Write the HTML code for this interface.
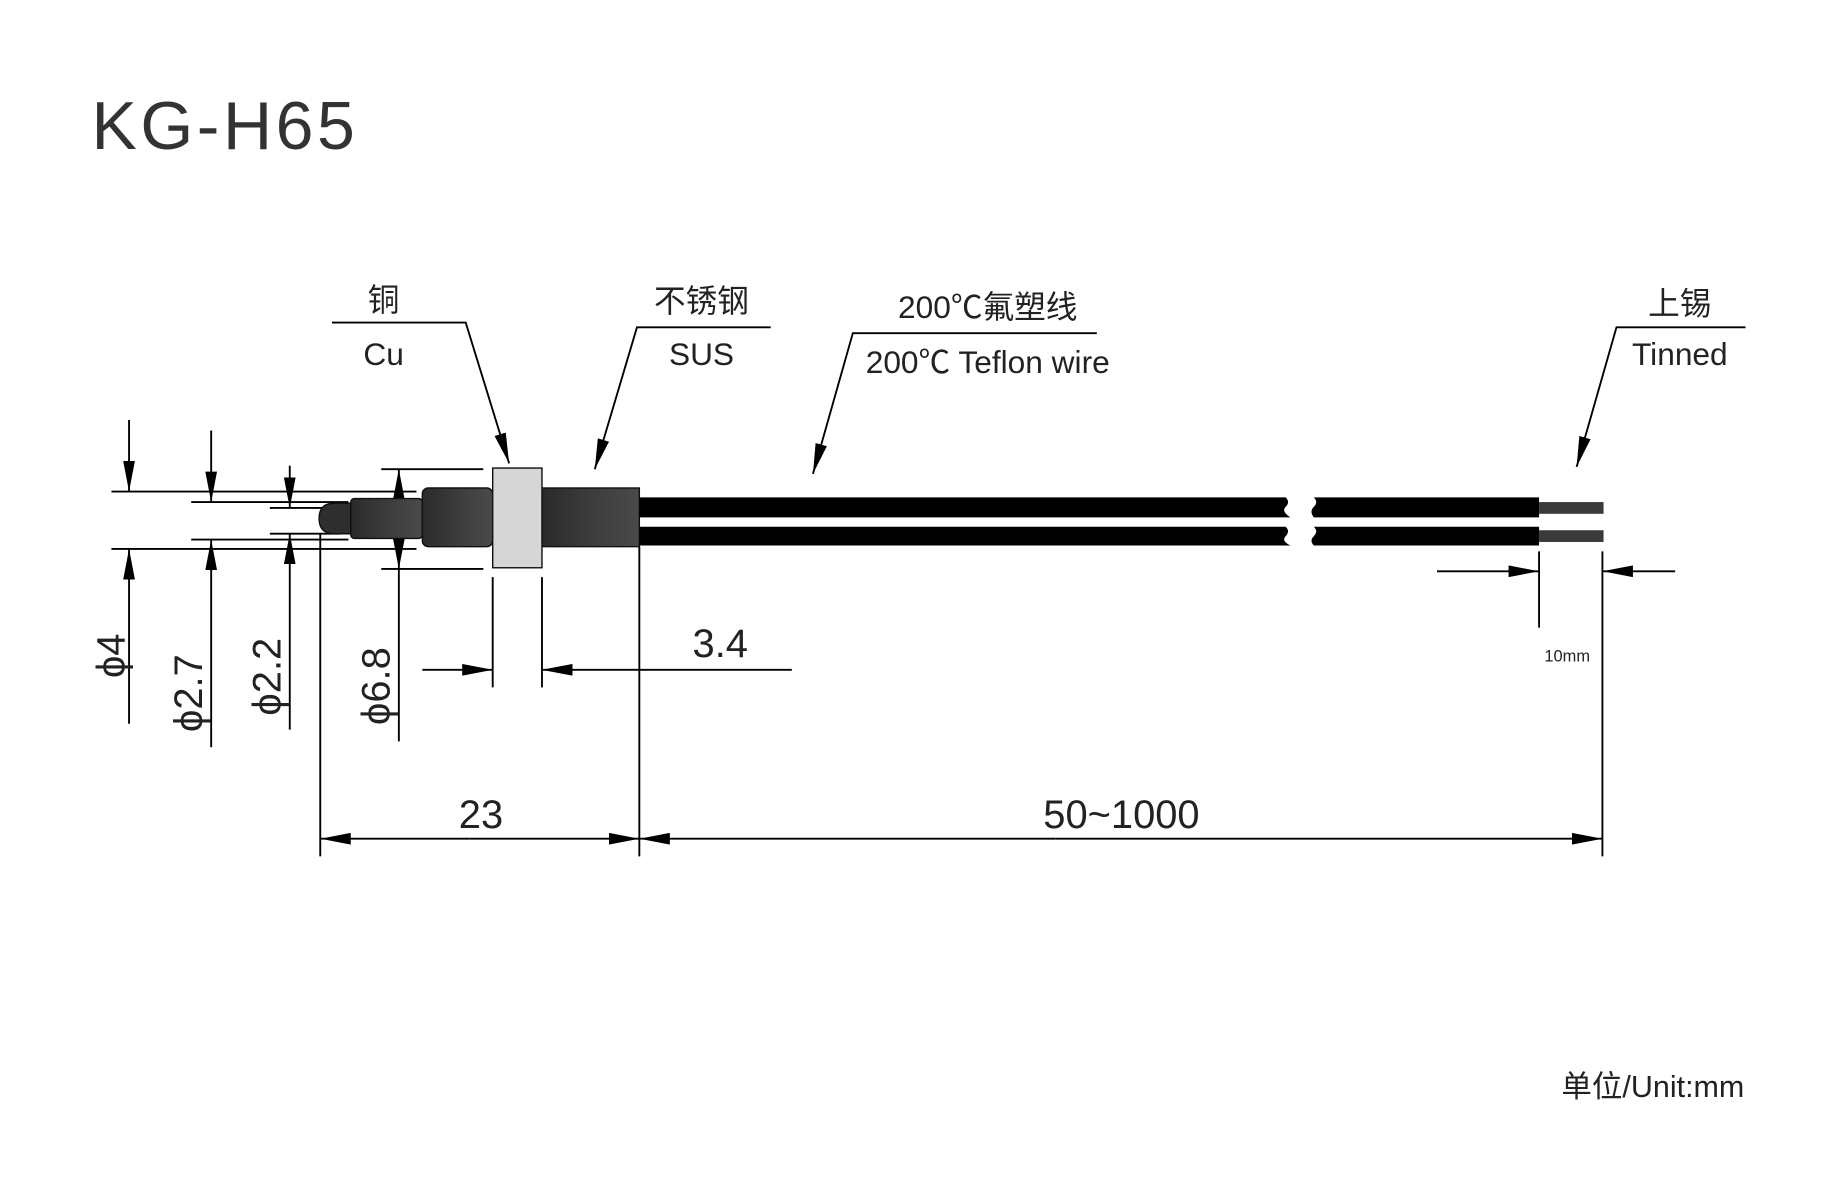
<!DOCTYPE html>
<html><head><meta charset="utf-8"><style>
html,body{margin:0;padding:0;background:#fff}
svg{display:block}
text{font-family:"Liberation Sans","Noto Sans CJK SC",sans-serif;fill:#222}
</style></head><body>
<svg width="1830" height="1193" viewBox="0 0 1560 1017" xmlns="http://www.w3.org/2000/svg">
<defs>
<marker id="a" viewBox="0 0 26 10" refX="26" refY="5" markerWidth="26" markerHeight="10" markerUnits="userSpaceOnUse" orient="auto"><path d="M0,0 L26,5 L0,10z" fill="#000"/></marker>
<linearGradient id="g" x1="0" y1="0" x2="1" y2="0"><stop offset="0" stop-color="#2a2a2a"/><stop offset="0.5" stop-color="#3c3c3c"/><stop offset="1" stop-color="#4a4a4a"/></linearGradient>
</defs>
<text x="78" y="127" font-size="58" style="fill:#333;letter-spacing:3px">KG-H65</text>

<g stroke="#000" stroke-width="1.6" fill="none">
<line x1="95" y1="419" x2="355" y2="419"/><line x1="95" y1="468" x2="355" y2="468"/>
<line x1="110" y1="358" x2="110" y2="419" marker-end="url(#a)"/><line x1="110" y1="617" x2="110" y2="468" marker-end="url(#a)"/>
<line x1="163" y1="428" x2="297" y2="428"/><line x1="163" y1="460" x2="297" y2="460"/>
<line x1="180" y1="367" x2="180" y2="428" marker-end="url(#a)"/><line x1="180" y1="637" x2="180" y2="460" marker-end="url(#a)"/>
<line x1="230" y1="433" x2="290" y2="433"/><line x1="230" y1="455" x2="290" y2="455"/>
<line x1="247" y1="397" x2="247" y2="433" marker-end="url(#a)"/><line x1="247" y1="622" x2="247" y2="455" marker-end="url(#a)"/>
<line x1="325" y1="400" x2="412" y2="400"/><line x1="325" y1="485" x2="412" y2="485"/>
<line x1="340" y1="440" x2="340" y2="400" marker-end="url(#a)"/><line x1="340" y1="445" x2="340" y2="485" marker-end="url(#a)"/>
<line x1="340" y1="485" x2="340" y2="632"/>
<line x1="420" y1="492" x2="420" y2="586"/><line x1="462" y1="492" x2="462" y2="586"/>
<line x1="360" y1="571" x2="420" y2="571" marker-end="url(#a)"/><line x1="675" y1="571" x2="462" y2="571" marker-end="url(#a)"/>
<line x1="273" y1="455" x2="273" y2="730"/><line x1="545" y1="466" x2="545" y2="730"/><line x1="1366" y1="470" x2="1366" y2="730"/>
<line x1="400" y1="715" x2="273" y2="715" marker-end="url(#a)"/><line x1="400" y1="715" x2="545" y2="715" marker-end="url(#a)"/>
<line x1="900" y1="715" x2="545" y2="715" marker-end="url(#a)"/><line x1="900" y1="715" x2="1366" y2="715" marker-end="url(#a)"/>
<line x1="1312" y1="470" x2="1312" y2="535"/>
<line x1="1225" y1="487" x2="1312" y2="487" marker-end="url(#a)"/><line x1="1428" y1="487" x2="1366" y2="487" marker-end="url(#a)"/>
<polyline points="283,275 397,275 434,395" marker-end="url(#a)"/>
<polyline points="657,279 543,279 507,400" marker-end="url(#a)"/>
<polyline points="935,284 727,284 693,404" marker-end="url(#a)"/>
<polyline points="1488,279 1378,279 1344,398" marker-end="url(#a)"/>
</g>

<g stroke="#111" stroke-width="1.2">
<path d="M299,429 L285,429 Q272,429 272,442 Q272,455 285,455 L299,455 Z" fill="#2e2e2e"/>
<rect x="299" y="425" width="61" height="34" rx="3" fill="url(#g)"/>
<rect x="360" y="416" width="60" height="50" rx="5" fill="url(#g)"/>
<rect x="462" y="416" width="83" height="50" fill="url(#g)"/>
<rect x="420" y="399" width="42" height="85" fill="#d6d6d6"/>
</g>
<path d="M545,424 H1096 Q1100,428 1096,432 Q1092,436 1100,441 H545Z" fill="#000"/>
<path d="M545,449 H1096 Q1100,453 1096,457 Q1092,461 1100,465 H545Z" fill="#000"/>
<path d="M1120,424 H1312 V441 H1120 Q1116,436 1120,432 Q1124,428 1120,424Z" fill="#000"/>
<path d="M1120,449 H1312 V465 H1120 Q1116,461 1120,457 Q1124,453 1120,449Z" fill="#000"/>
<rect x="1312" y="428" width="55" height="10" fill="#3a3a3a"/>
<rect x="1312" y="452" width="55" height="10" fill="#3a3a3a"/>

<g font-size="34" style="font-family:'DejaVu Sans','Liberation Sans',sans-serif">
<text transform="translate(106,578) rotate(-90)">ϕ4</text>
<text transform="translate(172,624) rotate(-90)">ϕ2.7</text>
<text transform="translate(239,610) rotate(-90)">ϕ2.2</text>
<text transform="translate(332,618) rotate(-90)">ϕ6.8</text>
<text x="614" y="560" text-anchor="middle">3.4</text>
<text x="410" y="706" text-anchor="middle">23</text>
<text x="956" y="706" text-anchor="middle">50~1000</text>
</g>
<text x="1336" y="564" font-size="14" text-anchor="middle">10mm</text>

<g font-size="27" text-anchor="middle">
<text x="327" y="265">铜</text><text x="327" y="311">Cu</text>
<text x="598" y="266">不锈钢</text><text x="598" y="311">SUS</text>
<text x="842" y="271">200℃氟塑线</text><text x="842" y="318">200℃ Teflon wire</text>
<text x="1432" y="268">上锡</text><text x="1432" y="311">Tinned</text>
</g>
<text x="1487" y="935" font-size="26" text-anchor="end">单位/Unit:mm</text>
</svg>
</body></html>
